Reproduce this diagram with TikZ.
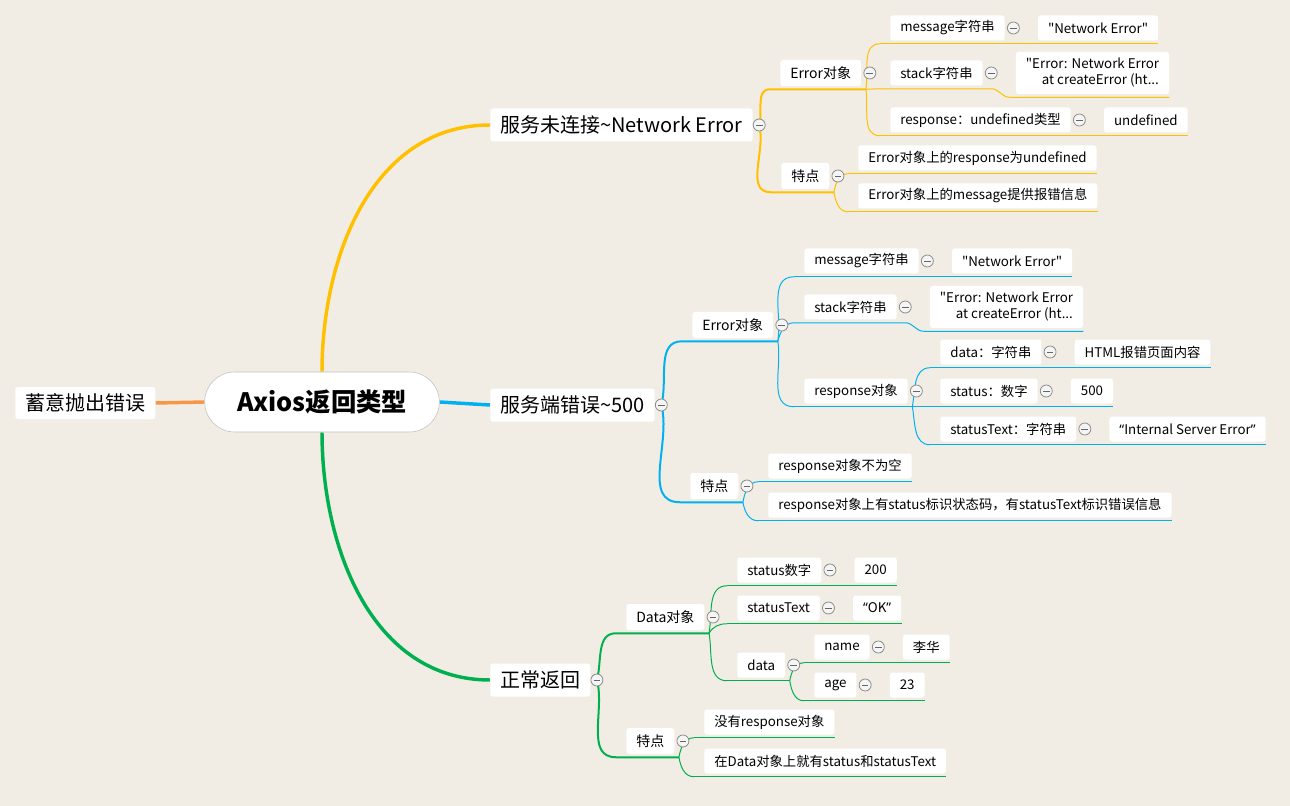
\documentclass[tikz,border=0pt]{standalone}
\usepackage{fontspec}
\setmainfont{Noto Sans CJK SC}[Ligatures=TeXOff]
\newfontfamily\qfont{Noto Sans}
\usetikzlibrary{positioning,calc}

\definecolor{paper}{RGB}{242,237,228}
\definecolor{xmYellow}{RGB}{255,192,0}
\definecolor{xmBlue}{RGB}{0,176,240}
\definecolor{xmGreen}{RGB}{0,176,80}
\definecolor{xmOrange}{RGB}{247,150,70}

\pgfdeclarelayer{paperlayer}
\pgfdeclarelayer{linelayer}
\pgfsetlayers{paperlayer,linelayer,main}

\tikzset{
  box/.style={fill=white, rounded corners=2pt, inner xsep=7.5pt, inner ysep=0pt,
    minimum height=18.75pt, anchor=west, font=\fontsize{10}{12}\selectfont},
  sub/.style={box, minimum height=19.5pt, font=\fontsize{10.5}{12.5}\selectfont},
  topic/.style={box, minimum height=24.75pt, font=\fontsize{15}{18}\selectfont},
  foldmark/.style={circle, draw=black!45, fill=black!4, line width=0.6pt,
    minimum size=9pt, inner sep=0pt,
    path picture={\draw[black!60, line width=0.6pt]
      ([xshift=2pt]path picture bounding box.west) -- ([xshift=-2pt]path picture bounding box.east);}},
  lvl1/.style={line width=2.6pt},
  lvl2/.style={line width=1.5pt},
  lvl3/.style={line width=0.75pt},
}

\begin{document}
\begin{tikzpicture}[x=0.75pt, y=0.75pt]
\begin{pgfonlayer}{paperlayer}
  \fill[paper] (0,0) rectangle (1290,-806);
\end{pgfonlayer}

% centre and main topics
\node[draw=black!25, fill=white, rounded corners=22.5pt, minimum width=176pt,
  minimum height=45pt, font=\fontsize{19}{23}\selectfont\bfseries] (root) at (322,-402) {Axios返回类型};
\node[topic, minimum height=24pt] (l0) at (15,-403) {蓄意抛出错误};
\node[topic] (t1) at (490,-125) {服务未连接\textasciitilde Network Error};
\node[topic] (t2) at (490,-405) {服务端错误\textasciitilde 500};
\node[topic] (t3) at (490,-680) {正常返回};

% Network Error
\node[sub] (e1) at (780,-73) {Error对象};
\node[sub] (p1) at (781,-176) {特点};
\node[box] (m1) at (890,-28) {message字符串};
\node[box] (s1) at (890,-73) {stack字符串};
\node[box] (r1) at (890,-120) {response：undefined类型};
\node[box] (q1) at (858,-158) {Error对象上的response为undefined};
\node[box] (q2) at (858,-196) {Error对象上的message提供报错信息};

% 500
\node[sub] (e2) at (692,-325) {Error对象};
\node[sub] (p2) at (690,-486) {特点};
\node[box] (m2) at (804,-261) {message字符串};
\node[box] (s2) at (804,-307) {stack字符串};
\node[box] (r2) at (804,-391) {response对象};
\node[box] (d2) at (940,-352) {data：字符串};
\node[box] (u2) at (940,-391) {status：数字};
\node[box] (x2) at (940,-429) {statusText：字符串};
\node[box] (q3) at (768,-466) {response对象不为空};
\node[box] (q4) at (768,-505) {response对象上有status标识状态码，有statusText标识错误信息};

% 正常返回
\node[sub] (e3) at (626,-617) {Data对象};
\node[sub] (p3) at (626,-741) {特点};
\node[box] (a3) at (737,-570) {status数字};
\node[box] (b3) at (737,-608) {statusText};
\node[box] (d3) at (737,-665) {data};
\node[box] (n3) at (814,-647) {name};
\node[box] (g3) at (814,-685) {age};
\node[box] (q5) at (704,-722) {没有response对象};
\node[box] (q6) at (704,-761) {在Data对象上就有status和statusText};

% collapse marks
\foreach \n in {t1,t2,t3}
  \node[foldmark, right=0pt of \n] (\n-f) {};
\foreach \n in {e1,p1,m1,s1,r1,e2,p2,m2,s2,r2,d2,u2,x2,e3,p3,a3,b3,d3,n3,g3}
  \node[foldmark, right=1.5pt of \n] (\n-f) {};

% values
\node[box, right=13.5pt of m1-f] (m1-v) {"Network Error"};
\node[box, align=left, minimum height=31.5pt, right=13.5pt of s1-f] (s1-v)
  {"Error: Network Error\\\hspace*{1.2em}at createError (ht...};
\node[box, right=13.5pt of r1-f] (r1-v) {undefined};
\node[box, right=13.5pt of m2-f] (m2-v) {"Network Error"};
\node[box, align=left, minimum height=31.5pt, right=13.5pt of s2-f] (s2-v)
  {"Error: Network Error\\\hspace*{1.2em}at createError (ht...};
\node[box, right=13.5pt of d2-f] (d2-v) {HTML报错页面内容};
\node[box, right=13.5pt of u2-f] (u2-v) {500};
\node[box, right=13.5pt of x2-f] (x2-v) {{\qfont “}Internal Server Error{\qfont ”}};
\node[box, right=13.5pt of a3-f] (a3-v) {200};
\node[box, right=13.5pt of b3-f] (b3-v) {{\qfont “}OK{\qfont ”}};
\node[box, right=13.5pt of n3-f] (n3-v) {李华};
\node[box, right=13.5pt of g3-f] (g3-v) {23};

% underline starts and branch points
\foreach \n in {e1,p1,m1,s1,r1,q1,q2,e2,p2,m2,s2,r2,d2,u2,x2,q3,q4,e3,p3,a3,b3,d3,n3,g3,q5,q6}
  \coordinate (\n-s) at ($(\n.south west)+(-10,-3)$);
\foreach \n in {e1,p1,e2,p2,r2,e3,p3,d3}
  \coordinate (\n-j) at ($(\n-f.center |- \n.south)+(-4,-3)$);

\begin{pgfonlayer}{linelayer}
  \draw[xmOrange, lvl1] (l0.east) -- (root.west);

  % yellow branch
  \begin{scope}[xmYellow]
    \draw[lvl1] (root.north) to[out=90, in=180] (t1.west);
    \draw[lvl2] (t1-f.center) to[out=75, in=180] (e1-s) -- (e1-j);
    \draw[lvl2] (t1-f.center) to[out=-75, in=180] (p1-s) -- (p1-j);
    \foreach \c/\o in {m1/80, s1/0, r1/-80}
      \draw[lvl3] (e1-j) to[out=\o, in=180] (\c-s);
    \foreach \c/\o in {q1/80, q2/-80}
      \draw[lvl3] (p1-j) to[out=\o, in=180] (\c-s);
    \foreach \c in {m1,r1}
      \draw[lvl3] (\c-s) -- ($(\c-v.south east)+(0,-3)$);
    \foreach \c in {q1,q2}
      \draw[lvl3] (\c-s) -- ($(\c.south east)+(0,-3)$);
    \draw[lvl3] (s1-s) -- (s1-f.center |- s1-s) to[out=0, in=180]
      ($(s1-v.south west)+(-6,-3)$) -- ($(s1-v.south east)+(0,-3)$);
  \end{scope}

  % blue branch
  \begin{scope}[xmBlue]
    \draw[lvl1] (root.east) -- (t2.west);
    \draw[lvl2] (t2-f.center) to[out=75, in=180] (e2-s) -- (e2-j);
    \draw[lvl2] (t2-f.center) to[out=-75, in=180] (p2-s) -- (p2-j);
    \foreach \c/\o in {m2/80, s2/75, r2/-80}
      \draw[lvl3] (e2-j) to[out=\o, in=180] (\c-s);
    \draw[lvl3] (r2-s) -- (r2-j);
    \foreach \c/\o in {d2/80, u2/0, x2/-80}
      \draw[lvl3] (r2-j) to[out=\o, in=180] (\c-s);
    \foreach \c/\o in {q3/80, q4/-80}
      \draw[lvl3] (p2-j) to[out=\o, in=180] (\c-s);
    \foreach \c in {m2,d2,u2,x2}
      \draw[lvl3] (\c-s) -- ($(\c-v.south east)+(0,-3)$);
    \foreach \c in {q3,q4}
      \draw[lvl3] (\c-s) -- ($(\c.south east)+(0,-3)$);
    \draw[lvl3] (s2-s) -- (s2-f.center |- s2-s) to[out=0, in=180]
      ($(s2-v.south west)+(-6,-3)$) -- ($(s2-v.south east)+(0,-3)$);
  \end{scope}

  % green branch
  \begin{scope}[xmGreen]
    \draw[lvl1] (root.south) to[out=-90, in=180] (t3.west);
    \draw[lvl2] (t3-f.center) to[out=75, in=180] (e3-s) -- (e3-j);
    \draw[lvl2] (t3-f.center) to[out=-75, in=180] (p3-s) -- (p3-j);
    \foreach \c/\o in {a3/80, b3/60, d3/-80}
      \draw[lvl3] (e3-j) to[out=\o, in=180] (\c-s);
    \draw[lvl3] (d3-s) -- (d3-j);
    \foreach \c/\o in {n3/80, g3/-80}
      \draw[lvl3] (d3-j) to[out=\o, in=180] (\c-s);
    \foreach \c/\o in {q5/80, q6/-80}
      \draw[lvl3] (p3-j) to[out=\o, in=180] (\c-s);
    \foreach \c in {a3,b3,n3,g3}
      \draw[lvl3] (\c-s) -- ($(\c-v.south east)+(0,-3)$);
    \foreach \c in {q5,q6}
      \draw[lvl3] (\c-s) -- ($(\c.south east)+(0,-3)$);
  \end{scope}
\end{pgfonlayer}
\end{tikzpicture}
\end{document}
